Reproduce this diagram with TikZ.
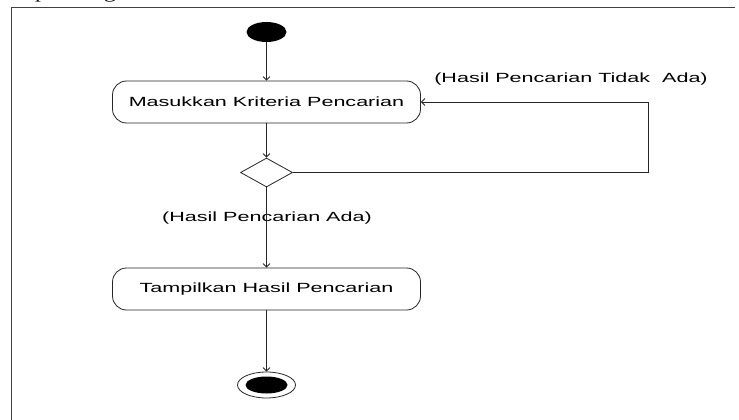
\documentclass[tikz,border=0pt]{standalone}
\usepackage{fontspec}
\usetikzlibrary{shapes.geometric,arrows.meta}
\newfontfamily\diagfont{Liberation Sans}[FakeStretch=1.62]
\newfontfamily\topfont{Liberation Serif}[FakeStretch=1.4]
\begin{document}
\begin{tikzpicture}[x=1pt,y=-1pt,
  act/.style={draw=black!85, line width=0.8pt, rounded corners=14pt, minimum width=308pt, minimum height=42pt, inner sep=0pt, font=\diagfont\fontsize{13.3}{16}\selectfont},
  flow/.style={draw=black!85, line width=0.8pt, -{Straight Barb[length=3.5pt,width=7pt]}},
  lbl/.style={font=\diagfont\fontsize{13.3}{16}\selectfont, inner sep=0pt},
  frame/.style={draw=black!75, line width=1pt},
  topt/.style={anchor=base, inner sep=0pt, font=\topfont\fontsize{17}{20}\selectfont}
]
\useasboundingbox (0,0) rectangle (739,420);
\fill[white] (0,0) rectangle (739,420);
\begin{scope}
\clip (0,0) rectangle (739,420);
\node[topt] (tp) at (41,-1.2) {p};
\node[topt] (tg) at (110,-1.2) {g};
\end{scope}
\draw[frame] (11,421) -- (11,8) -- (735,8);

\node[ellipse, fill=black, minimum width=40pt, minimum height=20pt, inner sep=0pt] (start) at (266.5,32) {};
\node[act] (masuk) at (266.5,102) {Masukkan Kriteria Pencarian};
\node[diamond, draw=black!85, line width=0.8pt, minimum width=52pt, minimum height=29pt, inner sep=0pt] (dec) at (266.5,172.5) {};
\node[act] (tampil) at (266.5,289) {Tampilkan Hasil Pencarian};
\node[ellipse, draw=black!85, line width=0.8pt, minimum width=58pt, minimum height=26pt, inner sep=0pt] (fin) at (266.5,385) {};
\node[ellipse, fill=black, minimum width=42pt, minimum height=17pt, inner sep=0pt] (finin) at (266.5,385) {};
\node[lbl] (ada) at (267,218) {(Hasil Pencarian Ada)};
\node[lbl] (tidak) at (571,79) {(Hasil Pencarian Tidak\ \ Ada)};
\coordinate (loopc) at (648,172.5);

\draw[flow] (start) -- (masuk);
\draw[flow] (masuk) -- (dec);
\draw[flow] (dec.east) -- (loopc) |- (masuk.east);
\draw[flow] (dec) -- (tampil);
\draw[flow] (tampil) -- (fin);
\end{tikzpicture}
\end{document}
